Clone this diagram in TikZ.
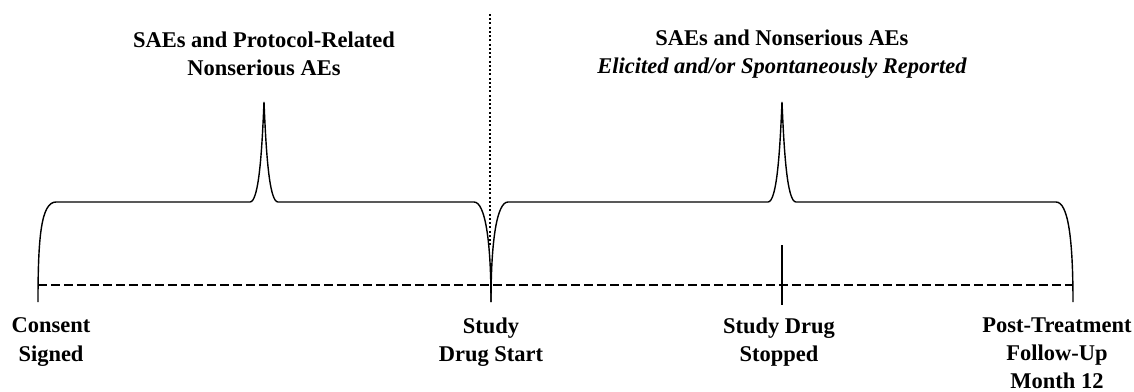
\documentclass[tikz,border=0pt]{standalone}
\usepackage{fontspec}
\setmainfont{Liberation Serif}
\usetikzlibrary{calc}

\tikzset{
  label/.style={font=\bfseries\fontsize{12.8}{16}\selectfont, align=center, inner sep=0pt},
  brace/.style={line width=0.8pt},
  timeline/.style={line width=1.4pt, dash pattern=on 0.18cm off 0.08cm},
  divider/.style={line width=1.2pt, dash pattern=on 0.04cm off 0.045cm}
}

\begin{document}
\begin{tikzpicture}[x=0.02cm, y=-0.02cm]
        \useasboundingbox (0,0) rectangle (1134,392);
        % time points on the dashed line
        \coordinate (consent) at (38,285);
        \coordinate (start) at (491,285);
        \coordinate (stopped) at (782,285);
        \coordinate (followup) at (1073,285);
        \draw[timeline] (consent) -- (followup);
        % braces over the two periods
        \draw[brace] (38,302) .. controls (38,238) and (41,202) .. (56,202) -- (250,202)
            .. controls (259,202) and (262,150) .. (264,102)
            .. controls (266,150) and (269,202) .. (278,202) -- (474,202)
            .. controls (485,202) and (491,240) .. (491,302);
        \draw[brace] (491,302) .. controls (491,240) and (497,202) .. (508,202) -- (768,202)
            .. controls (777,202) and (780,150) .. (782,102)
            .. controls (784,150) and (787,202) .. (796,202) -- (1056,202)
            .. controls (1068,202) and (1073,238) .. (1073,302);
        \draw[brace] ($(stopped)+(0,-40)$) -- ($(stopped)+(0,20)$);
        \draw[divider] (490,14) -- (490,246);
        % headings
        \node[label] (pre) at (264,54) {SAEs and Protocol-Related\\Nonserious AEs};
        \node[label] (post) at (782,54) {SAEs and Nonserious AEs\\\itshape Elicited and/or Spontaneously Reported};
        % time point labels
        \node[label] (consentlbl) at (51,342) {Consent\\Signed};
        \node[label] (startlbl) at (491,342) {Study\\Drug Start};
        \node[label] (stoppedlbl) at (779,342) {Study Drug\\Stopped};
        \node[label] (followuplbl) at (1057,353) {Post-Treatment\\Follow-Up\\Month 12};
    \end{tikzpicture}
\end{document}
